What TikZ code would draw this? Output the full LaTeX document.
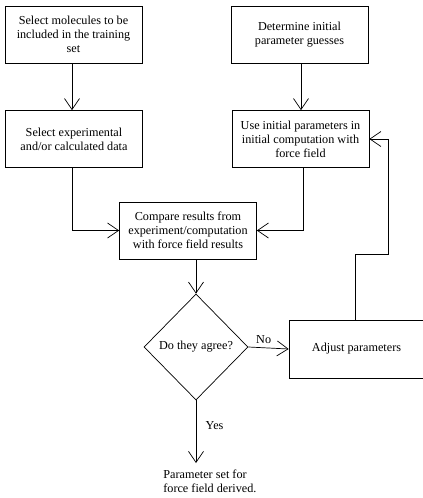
\documentclass[tikz,border=0pt]{standalone}
\usepackage{fontspec}
\setmainfont{Liberation Serif}
\usepackage{tikz}
\usetikzlibrary{arrows.meta,shapes.geometric,positioning}

\begin{document}
\begin{tikzpicture}[x=1pt,y=-1pt,line width=0.7pt,
		font=\fontsize{12.2}{14}\selectfont,
		>={Straight Barb[length=11pt,width=15pt]},
		stepbox/.style={draw,rectangle,align=center,minimum width=137pt,minimum height=57pt,inner sep=2pt},
		decision/.style={draw,diamond,minimum width=104pt,minimum height=106pt,inner sep=0pt}]
		\fill[white] (0,0) rectangle (423,498);
		\useasboundingbox (0,0) rectangle (423,498);
		\node[stepbox] (sel) at (73.5,34.5) {Select molecules to be\\included in the training\\set};
		\node[stepbox] (exp) at (74,139) {Select experimental\\and/or calculated data};
		\node[stepbox] (guess) at (299.5,34.5) {Determine initial\\parameter guesses};
		\node[stepbox] (init) at (300.5,139) {Use initial parameters in\\initial computation with\\force field};
		\node[stepbox] (comp) at (188,230.5) {Compare results from\\experiment/computation\\with force field results};
		\node[decision] (dia) at (196,347) {Do they agree?};
		\node[stepbox,minimum width=135pt,minimum height=58pt] (adj) at (356.5,349) {Adjust parameters};
		\node[anchor=west,align=left,inner sep=0pt] (res) at (163,481.5) {Parameter set for\\force field derived.};
		\coordinate (bend) at (388,254);
		\coordinate (yesend) at (196,463);
		\draw[->] (sel.south -| 72,0) -- (exp.north -| 72,0);
		\draw[->] (guess.south -| 301,0) -- (init.north -| 301,0);
		\draw[->] (exp.south -| 72,0) |- (comp.west);
		\draw[->] (init.south -| 303,0) |- (comp.east);
		\draw[->] (comp.south -| dia.north) -- (dia.north);
		\draw[->] (dia.east) -- node[above,pos=0.38] {No} (adj.west);
		\draw[->] (adj.north -| 355,0) |- (bend) |- (init.east);
		\draw[->] (dia.south) -- node[right,pos=0.4,xshift=6pt] {Yes} (yesend);
\end{tikzpicture}
\end{document}
